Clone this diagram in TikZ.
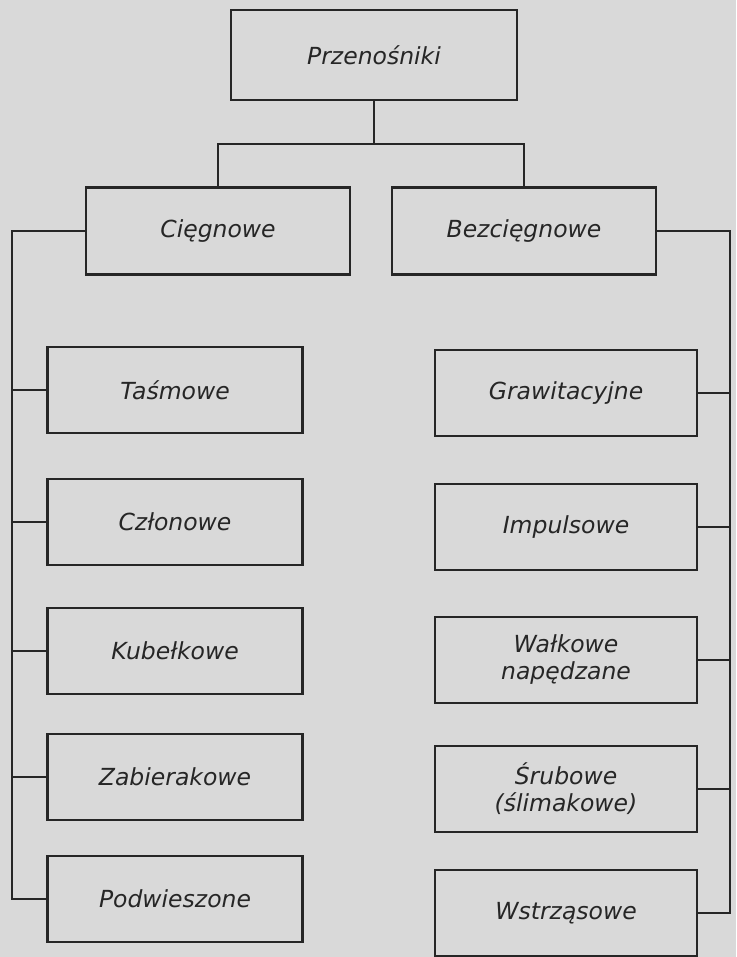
\documentclass[tikz,border=0pt]{standalone}
\usepackage{fontspec}
\setmainfont{DejaVu Sans}
\usetikzlibrary{positioning}

\begin{document}
\begin{tikzpicture}[x=1pt,y=-1pt,line width=2.2pt,draw=black!85,
  kind/.style={rectangle,draw,inner sep=0pt,align=center,text=black!85,font=\fontsize{23.5}{27}\selectfont\itshape},
  top/.style={kind,minimum width=286pt,minimum height=90pt},
  group/.style={kind,minimum width=264pt,minimum height=87pt},
  leftbox/.style={kind,minimum width=255pt,minimum height=86pt},
  rightbox/.style={kind,minimum width=262pt,minimum height=86pt}]

\useasboundingbox (0,0) rectangle (736,957);
\fill[black!15] (0,0) rectangle (736,957);

\node[top] (przen) at (374,55) {Przenośniki};
\node[group] (cieg) at (218,231) {Cięgnowe};
\node[group] (bezc) at (524,231) {Bezcięgnowe};

\node[leftbox] (tasm)   at (175,390) {Taśmowe};
\node[leftbox] (czlon)  at (175,522) {Członowe};
\node[leftbox] (kubel)  at (175,651) {Kubełkowe};
\node[leftbox] (zabier) at (175,777) {Zabierakowe};
\node[leftbox] (podw)   at (175,899) {Podwieszone};

\node[rightbox] (grawit) at (566,393) {Grawitacyjne};
\node[rightbox] (impuls) at (566,527) {Impulsowe};
\node[rightbox] (walk)   at (566,660) {Wałkowe\\napędzane};
\node[rightbox] (srub)   at (566,789) {Śrubowe\\(ślimakowe)};
\node[rightbox] (wstrz)  at (566,913) {Wstrząsowe};

\coordinate (split) at (374,144);
\coordinate (ltrunk) at (12,231);
\coordinate (rtrunk) at (730,231);

\draw (przen.south) -- (split);
\draw (cieg.north) |- (split) -| (bezc.north);

\draw (cieg.west) -- (ltrunk) |- (podw.west);
\foreach \n in {tasm,czlon,kubel,zabier}
  \draw (\n.west) -- (\n.west -| ltrunk);

\draw (bezc.east) -- (rtrunk) |- (wstrz.east);
\foreach \n in {grawit,impuls,walk,srub}
  \draw (\n.east) -- (\n.east -| rtrunk);
\end{tikzpicture}
\end{document}
